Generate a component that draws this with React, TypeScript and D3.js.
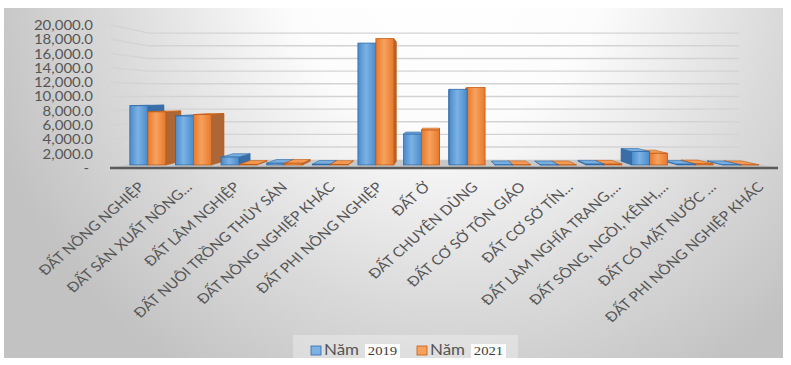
import React from "react";
import * as d3 from "d3";

const categories = [
  "ĐẤT NÔNG NGHIỆP",
  "ĐẤT SẢN XUẤT NÔNG…",
  "ĐẤT LÂM NGHIỆP",
  "ĐẤT NUÔI TRỒNG THỦY SẢN",
  "ĐẤT NÔNG NGHIỆP KHÁC",
  "ĐẤT PHI NÔNG NGHIỆP",
  "ĐẤT Ở",
  "ĐẤT CHUYÊN DÙNG",
  "ĐẤT CƠ SỞ TÔN GIÁO",
  "ĐẤT CƠ SỞ TÍN…",
  "ĐẤT LÀM NGHĨA TRANG,…",
  "ĐẤT SÔNG, NGÒI, KÊNH,…",
  "ĐẤT CÓ MẶT NƯỚC …",
  "ĐẤT PHI NÔNG NGHIỆP KHÁC",
];
const values2019 = [8650, 7150, 1150, 250, 100, 17800, 4500, 11050, 30, 15, 120, 1950, 110, 25];
const values2021 = [7750, 7350, 80, 250, 70, 18450, 5100, 11300, 30, 15, 120, 1700, 160, 25];
const seriesYears = ["2019", "2021"];
const yTicks = [0, 2000, 4000, 6000, 8000, 10000, 12000, 14000, 16000, 18000, 20000];

const W = 791;
const H = 365;
const VPX = 440;
const VPY = 96;
const S_BACK = 0.885;
const Z1 = 0.37;
const Z2 = 0.83;
const STRETCH = 1.13;
const FONT = "Lato, 'Open Sans', sans-serif";
const TXT = "#555555";

const palette = [
  { front0: "#4a8bcb", front1: "#7cb2e4", side: "#3a6ea6", top: "#77addf", stroke: "#2f6aa8" },
  { front0: "#e8782c", front1: "#f6a25e", side: "#ad6634", top: "#f39b55", stroke: "#c55a11" },
];

const sOf = (z: number) => 1 - (1 - S_BACK) * z;
const proj = (X: number, Y: number, z: number): [number, number] => {
  const s = sOf(z);
  return [VPX + (X - VPX) * s, VPY + (Y - VPY) * s];
};
const pts = (a: [number, number][]) => a.map((p) => p.join(",")).join(" ");

export default function App() {
  const x = d3.scaleBand<string>().domain(categories).range([111, 778]).paddingInner(0).paddingOuter(0);
  const inner = d3.scaleBand<string>().domain(seriesYears).range([0, x.bandwidth()]).paddingInner(0).paddingOuter(0.27);
  const y = d3.scaleLinear().domain([0, 20000]).range([168, 25]);
  const fmt = d3.format(",.1f");

  const bars: any[] = [];
  categories.forEach((c, i) => {
    [values2019[i], values2021[i]].forEach((v, k) => {
      const Xl = (x(c) as number) + (inner(seriesYears[k]) as number);
      const Xr = Xl + inner.bandwidth();
      bars.push({ key: c + k, Xl, Xr, Ytop: y(v), Ybot: y(0), k });
    });
  });
  bars.sort((a, b) => Math.abs((b.Xl + b.Xr) / 2 - VPX) - Math.abs((a.Xl + a.Xr) / 2 - VPX));

  const xMin = 111;
  const xMax = 778;

  return (
    <svg width={W} height={H} style={{ position: "absolute", left: 0, top: 0 }}>
      <defs>
        <radialGradient id="bg" gradientUnits="userSpaceOnUse" cx={445} cy={-30} r={480}>
          <stop offset="0" stopColor="#ffffff" />
          <stop offset="0.33" stopColor="#fcfcfc" />
          <stop offset="0.7" stopColor="#dadada" />
          <stop offset="1" stopColor="#c2c2c2" />
        </radialGradient>
        {palette.map((p, k) => (
          <linearGradient key={k} id={`fg${k}`} x1="0" x2="1" y1="0" y2="0">
            <stop offset="0" stopColor={p.front0} />
            <stop offset="0.45" stopColor={p.front1} />
            <stop offset="1" stopColor={p.front0} />
          </linearGradient>
        ))}
      </defs>
      <rect x={0} y={0} width={W} height={H} fill="#ffffff" />
      <rect x={4} y={8} width={779} height={350} fill="url(#bg)" />

      {/* walls gridlines */}
      {yTicks.filter((t) => t > 0).map((t) => {
        const a = proj(xMin, y(t), 0);
        const b = proj(xMin, y(t), 1);
        const c = proj(xMax, y(t), 1);
        return (
          <g key={t}>
            <polyline points={pts([a, b, c])} fill="none" stroke="#d3d3d3" strokeWidth={1.4} />
          </g>
        );
      })}

      {/* floor */}
      <polygon
        points={pts([proj(xMin, y(0), 0), proj(xMax, y(0), 0), proj(xMax, y(0), 1), proj(xMin, y(0), 1)])}
        fill="#c8c8c8"
      />

      {/* bars */}
      {bars.map((b) => {
        const p = palette[b.k];
        const f1 = proj(b.Xl, b.Ytop, Z1);
        const f2 = proj(b.Xr, b.Ybot, Z1);
        let side: [number, number][] | null = null;
        if (b.Xr < VPX) {
          side = [proj(b.Xr, b.Ytop, Z1), proj(b.Xr, b.Ytop, Z2), proj(b.Xr, b.Ybot, Z2), proj(b.Xr, b.Ybot, Z1)];
        } else if (b.Xl > VPX) {
          side = [proj(b.Xl, b.Ytop, Z1), proj(b.Xl, b.Ytop, Z2), proj(b.Xl, b.Ybot, Z2), proj(b.Xl, b.Ybot, Z1)];
        }
        const top =
          b.Ytop > VPY
            ? [proj(b.Xl, b.Ytop, Z1), proj(b.Xr, b.Ytop, Z1), proj(b.Xr, b.Ytop, Z2), proj(b.Xl, b.Ytop, Z2)]
            : null;
        return (
          <g key={b.key}>
            {side && <polygon points={pts(side)} fill={p.side} stroke={p.stroke} strokeWidth={0.6} />}
            {top && <polygon points={pts(top)} fill={p.top} stroke={p.stroke} strokeWidth={0.6} />}
            <rect
              x={f1[0]}
              y={f1[1]}
              width={f2[0] - f1[0]}
              height={Math.max(0, f2[1] - f1[1])}
              fill={`url(#fg${b.k})`}
              stroke={p.stroke}
              strokeWidth={0.8}
            />
          </g>
        );
      })}

      {/* floor front edge */}
      <line x1={xMin - 1} x2={xMax} y1={y(0)} y2={y(0)} stroke="#5a5a5a" strokeWidth={2.5} />

      {/* y axis labels */}
      {yTicks.map((t) => (
        <text
          key={t}
          transform={`translate(${t === 0 ? 89 : 93},${y(t)}) scale(1.2,1)`}
          textAnchor="end"
          dominantBaseline="central"
          fontFamily={FONT}
          fontSize={12.5}
          fill={TXT}
        >
          {t === 0 ? "-" : fmt(t)}
        </text>
      ))}

      {/* category labels */}
      {categories.map((c) => {
        const cx = (x(c) as number) + x.bandwidth() / 2 + 2.5;
        return (
          <text
            key={c}
            transform={`translate(${cx},181) scale(${STRETCH},1) rotate(-45)`}
            textAnchor="end"
            dy="0.72em"
            fontFamily={FONT}
            fontSize={13.6}
            fill={TXT}
          >
            {c}
          </text>
        );
      })}

      {/* legend */}
      <rect x={293} y={335} width={225} height={24} fill="#ffffff" opacity={0.3} />
      {seriesYears.map((yr, k) => {
        const lx = 311 + k * 106;
        return (
          <g key={yr}>
            <rect x={lx} y={346} width={10} height={9} fill={palette[k].front1} stroke={palette[k].stroke} strokeWidth={0.8} />
            <text
              transform={`translate(${lx + 13},355) scale(${STRETCH},1)`}
              fontFamily={FONT}
              fontSize={15}
              fill={TXT}
            >
              Năm
            </text>
            <rect x={lx + 54} y={344} width={35} height={14} fill="#fbfbfb" />
            <text
              transform={`translate(${lx + 71.5},355) scale(${STRETCH},1)`}
              textAnchor="middle"
              fontFamily="'Liberation Serif', 'DejaVu Serif', serif"
              fontSize={13}
              fill="#404040"
            >
              {yr}
            </text>
          </g>
        );
      })}
    </svg>
  );
}
